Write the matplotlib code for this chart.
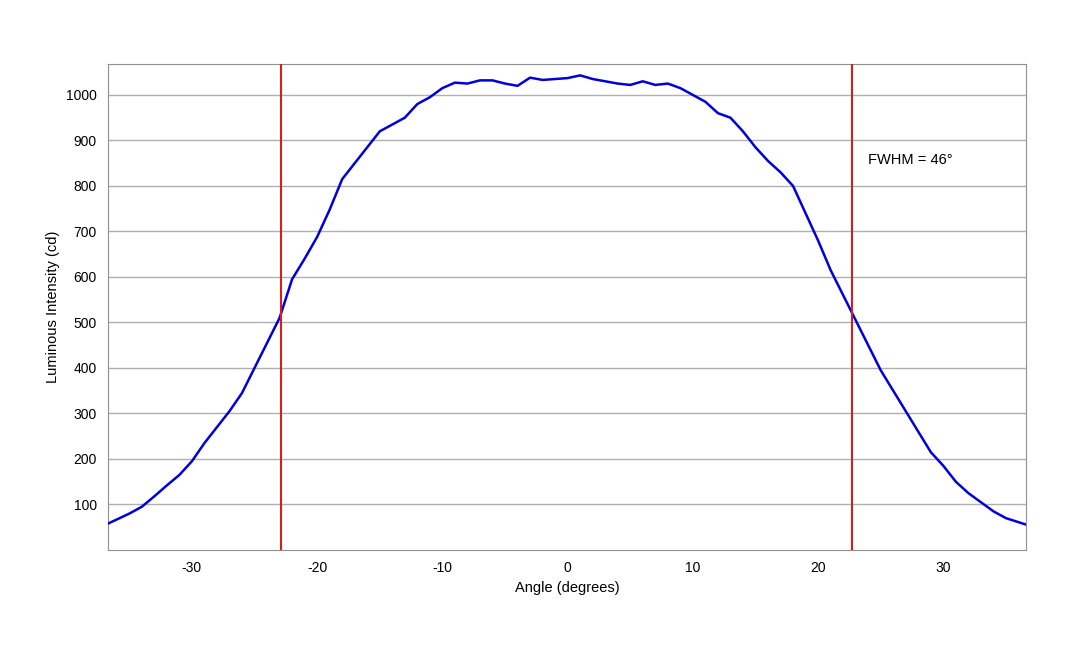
import matplotlib
matplotlib.use('Agg')
import matplotlib.pyplot as plt

plt.rcParams['font.family'] = ['Liberation Sans', 'DejaVu Sans']
plt.rcParams['axes.unicode_minus'] = False

# angle (degrees) and luminous intensity (cd)
angle = [-36.7, -35, -34, -33, -32, -31, -30, -29, -28, -27, -26, -25, -24, -23, -22, -21,
         -20, -19, -18, -17, -16, -15, -14, -13, -12, -11, -10, -9, -8, -7, -6, -5, -4,
         -3, -2, -1, 0, 1, 2, 3, 4, 5, 6, 7, 8, 9, 10, 11, 12, 13, 14, 15, 16, 17, 18,
         19, 20, 21, 22, 23, 24, 25, 26, 27, 28, 29, 30, 31, 32, 33, 34, 35, 36.7]
intensity = [58, 80, 95, 118, 142, 165, 195, 235, 270, 305, 345, 400, 455, 510, 595, 640,
             688, 748, 815, 850, 885, 920, 935, 950, 980, 995, 1015, 1027, 1025, 1032, 1032,
             1025, 1020, 1038, 1033, 1035, 1037, 1043, 1035, 1030, 1025, 1022, 1030, 1022,
             1025, 1015, 1000, 985, 960, 950, 920, 885, 855, 830, 800, 740, 680, 615, 560,
             505, 450, 395, 350, 305, 260, 215, 185, 150, 125, 105, 85, 70, 55]
fwhm_edges = [-22.9, 22.7]
yticks = [100, 200, 300, 400, 500, 600, 700, 800, 900, 1000]
xticks = [-30, -20, -10, 0, 10, 20, 30]

fig = plt.figure(figsize=(10.8, 6.48), dpi=100)
ax = fig.add_axes([108 / 1080, 1 - 550 / 648, 918 / 1080, 486 / 648])

ax.plot(angle, intensity, color='#0000dd', linewidth=1.8, zorder=3)
for e in fwhm_edges:
    ax.axvline(e, color='#d02020', linewidth=1.5, zorder=4)
ax.text(24, 857, 'FWHM = 46°', fontsize=10.5, va='center')

ax.set_xlim(-36.7, 36.6)
ax.set_ylim(0, 1068)
ax.set_xticks(xticks)
ax.set_yticks(yticks)
ax.grid(axis='y', color='#b0b0b0', linewidth=1)
ax.set_axisbelow(True)
for s in ax.spines.values():
    s.set_color('#909090')
ax.tick_params(length=0, labelsize=10, pad=8)
ax.set_xlabel('Angle (degrees)', fontsize=10.5)
ax.set_ylabel('Luminous Intensity (cd)', fontsize=10.5)

fig.savefig('out.png', dpi=100)
